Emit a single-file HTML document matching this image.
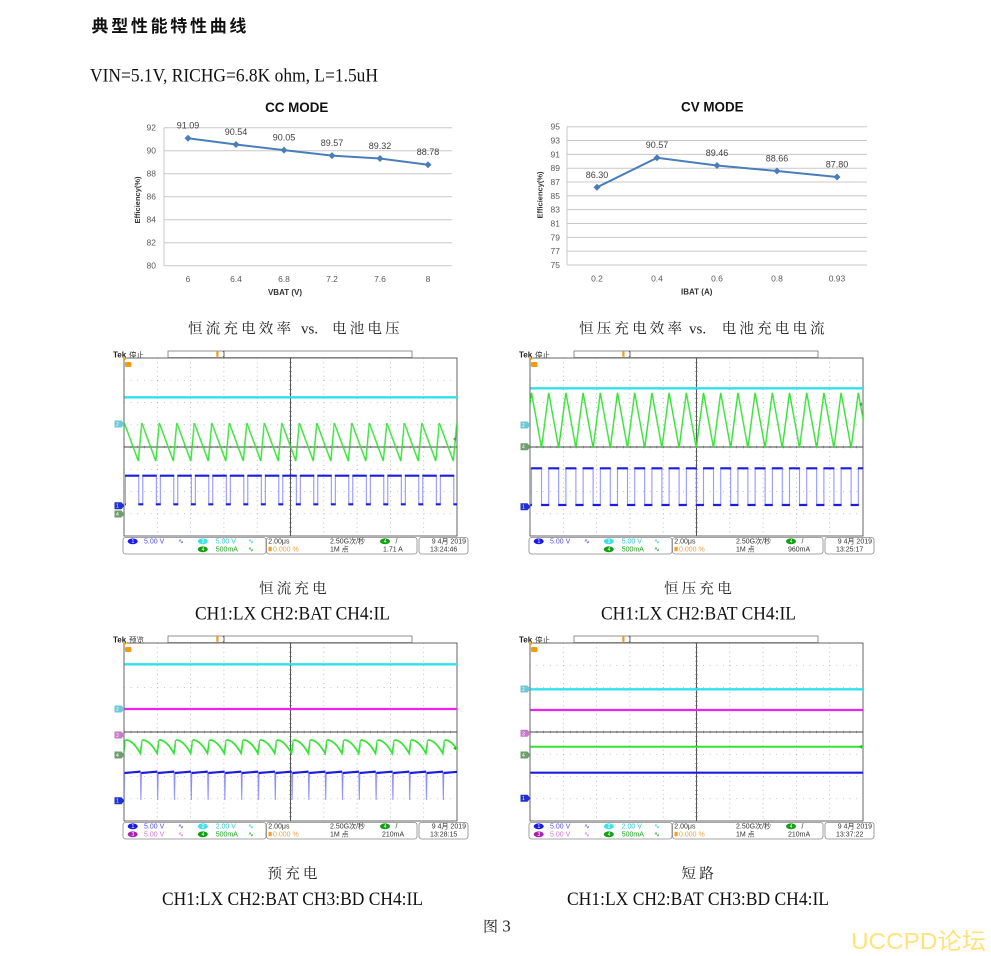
<!DOCTYPE html>
<html><head><meta charset="utf-8">
<style>
html,body{margin:0;padding:0;background:#fff;}
svg{display:block;}
.t{font-family:"Liberation Sans","Noto Sans CJK SC",sans-serif;}
.s{font-family:"Liberation Sans","Noto Sans CJK SC",sans-serif;font-size:7px;}
.sf{font-family:"Liberation Serif","Noto Serif CJK SC",serif;}
.cj{font-family:"Noto Serif CJK SC","Liberation Serif",serif;}
.n{font-family:"Liberation Sans",sans-serif;font-size:5px;fill:#fff;}
</style></head><body>
<svg width="991" height="956" viewBox="0 0 991 956" xmlns="http://www.w3.org/2000/svg">
<defs>
<pattern id="g1" patternUnits="userSpaceOnUse" x="124.3" y="0" width="17.5" height="956">
<path d="M0,423L14,461L17.5,423" fill="none" stroke="#33e233" stroke-width="1.4"/>
</pattern>
<pattern id="b1" patternUnits="userSpaceOnUse" x="131.3" y="0" width="17.5" height="956">
<path d="M7.5,475.7V504.3M11.5,504.3V475.7" stroke="#8c8cff" stroke-width="1"/>
<path d="M0,475.7H8M7,504.3H12M11,475.7H17.5" stroke="#1c1cdd" stroke-width="2.2"/>
</pattern>
<pattern id="g2" patternUnits="userSpaceOnUse" x="125.5" y="0" width="17.2" height="956">
<path d="M0,392.7L10,448L17.2,392.7" fill="none" stroke="#33e233" stroke-width="1.4"/>
</pattern>
<pattern id="b2" patternUnits="userSpaceOnUse" x="130.5" y="0" width="17.2" height="956">
<path d="M5,468.3V505M12.2,505V468.3" stroke="#8c8cff" stroke-width="1"/>
<path d="M0,468.3H5.5M4.5,505H12.7M11.7,468.3H17.2" stroke="#1c1cdd" stroke-width="2.2"/>
</pattern>
<pattern id="g3" patternUnits="userSpaceOnUse" x="125.5" y="0" width="16.8" height="956">
<path d="M0,455Q7,454.5 14.8,468.3L16.8,455" fill="none" stroke="#33e233" stroke-width="1.7"/>
</pattern>
<pattern id="b3" patternUnits="userSpaceOnUse" x="132.7" y="0" width="16.8" height="956">
<path d="M7.7,486.6L8.2,515L8.7,488" fill="none" stroke="#8c8cff" stroke-width="1"/>
<path d="M0,487.3L7.9,486.6M8.5,488L16.8,487.3" fill="none" stroke="#1c1cdd" stroke-width="2.2"/>
</pattern>
<g id="grat">
<g stroke="#a0a0a0" stroke-width="0.8" stroke-dasharray="0.8 3.65" fill="none">
<path d="M157.3,358V536M190.6,358V536M223.9,358V536M257.2,358V536M323.8,358V536M357.1,358V536M390.4,358V536M423.7,358V536"/>
</g>
<g stroke="#a0a0a0" stroke-width="0.8" stroke-dasharray="0.8 5.86" fill="none">
<path d="M124,380.25H457M124,402.5H457M124,424.75H457M124,469.25H457M124,491.5H457M124,513.75H457"/>
</g>
<path d="M290.5,358V536M124,447H457" stroke="#444" stroke-width="0.9" fill="none"/>
<path d="M124,447H457" stroke="#666" stroke-width="2.6" stroke-dasharray="0.6 6.06" fill="none"/>
<path d="M290.5,358V536" stroke="#666" stroke-width="2.6" stroke-dasharray="0.6 3.85" fill="none"/>
<rect x="124" y="358" width="333" height="178" fill="none" stroke="#555" stroke-width="0.9"/>
<path d="M124,357.5h3.5l-3.5,3.5z" fill="#f39c12"/>
<rect x="125" y="362" width="6.5" height="5" rx="1.2" fill="#f39c12"/>
<rect x="123" y="537.5" width="143" height="16.5" rx="2.5" fill="#fff" stroke="#888" stroke-width="0.8"/>
<rect x="266.5" y="537.5" width="150.5" height="16.5" rx="2.5" fill="#fff" stroke="#888" stroke-width="0.8"/>
<rect x="419" y="537.5" width="49" height="16.5" rx="2.5" fill="#fff" stroke="#888" stroke-width="0.8"/>
<rect x="168" y="351" width="244" height="6.5" fill="#fff" stroke="#777" stroke-width="0.8"/>
<rect x="216.3" y="351.6" width="2.2" height="5.2" fill="#f29a1f"/>
<path d="M222.8,351.8h1.2v5h-1.2" fill="none" stroke="#222" stroke-width="0.7"/>
</g>
</defs>

<!-- Header -->
<text x="91.5" y="32" font-family="Noto Sans CJK SC, sans-serif" font-weight="bold" font-size="17" letter-spacing="2.7" fill="#111">典型性能特性曲线</text>
<text x="90" y="81.5" class="sf" font-size="18.5" textLength="288" lengthAdjust="spacingAndGlyphs" fill="#111">VIN=5.1V, RICHG=6.8K ohm, L=1.5uH</text>

<!-- CC chart -->
<g class="t">
<text x="296.7" y="112" text-anchor="middle" font-size="13.4" font-weight="bold" fill="#111">CC MODE</text>
<path d="M164,127.7H452M164,150.7H452M164,173.7H452M164,196.7H452M164,219.7H452M164,242.7H452M164,265.7H452M164,127.7V265.7" stroke="#c8c8c8" stroke-width="1" fill="none"/>
<g font-size="8.5" fill="#595959" text-anchor="end">
<text x="156" y="130.7">92</text><text x="156" y="153.7">90</text><text x="156" y="176.7">88</text><text x="156" y="199.7">86</text><text x="156" y="222.7">84</text><text x="156" y="245.7">82</text><text x="156" y="268.7">80</text>
</g>
<g font-size="8.5" fill="#595959" text-anchor="middle">
<text x="188" y="282">6</text><text x="236" y="282">6.4</text><text x="284" y="282">6.8</text><text x="332" y="282">7.2</text><text x="380" y="282">7.6</text><text x="428" y="282">8</text>
</g>
<polyline points="188,138.2 236,144.5 284,150.1 332,155.6 380,158.5 428,164.7" fill="none" stroke="#4a7ebb" stroke-width="2"/>
<g fill="#4a7ebb">
<path d="M188,134.7l3.5,3.5l-3.5,3.5l-3.5,-3.5z"/><path d="M236,141l3.5,3.5l-3.5,3.5l-3.5,-3.5z"/><path d="M284,146.6l3.5,3.5l-3.5,3.5l-3.5,-3.5z"/><path d="M332,152.1l3.5,3.5l-3.5,3.5l-3.5,-3.5z"/><path d="M380,155l3.5,3.5l-3.5,3.5l-3.5,-3.5z"/><path d="M428,161.2l3.5,3.5l-3.5,3.5l-3.5,-3.5z"/>
</g>
<g font-size="9" fill="#404040" text-anchor="middle">
<text x="188" y="128.5">91.09</text><text x="236" y="135">90.54</text><text x="284" y="140.6">90.05</text><text x="332" y="146.1">89.57</text><text x="380" y="149">89.32</text><text x="428" y="155.2">88.78</text>
</g>
<text x="285" y="295" text-anchor="middle" font-size="8" font-weight="bold" fill="#333">VBAT (V)</text>
<text transform="translate(140,200) rotate(-90)" text-anchor="middle" font-size="7.5" font-weight="bold" fill="#333">Efficiency(%)</text>
</g>

<!-- CV chart -->
<g class="t">
<text x="712.3" y="111.4" text-anchor="middle" font-size="13.4" font-weight="bold" fill="#111">CV MODE</text>
<path d="M567,126.7H867M567,140.53H867M567,154.36H867M567,168.19H867M567,182.02H867M567,195.85H867M567,209.68H867M567,223.51H867M567,237.34H867M567,251.17H867M567,265H867M567,126.7V265" stroke="#c8c8c8" stroke-width="1" fill="none"/>
<g font-size="8.5" fill="#595959" text-anchor="end">
<text x="560" y="129.7">95</text><text x="560" y="143.5">93</text><text x="560" y="157.4">91</text><text x="560" y="171.2">89</text><text x="560" y="185">87</text><text x="560" y="198.9">85</text><text x="560" y="212.7">83</text><text x="560" y="226.5">81</text><text x="560" y="240.3">79</text><text x="560" y="254.2">77</text><text x="560" y="268">75</text>
</g>
<g font-size="8.5" fill="#595959" text-anchor="middle">
<text x="597" y="281.5">0.2</text><text x="657" y="281.5">0.4</text><text x="717" y="281.5">0.6</text><text x="777" y="281.5">0.8</text><text x="837" y="281.5">0.93</text>
</g>
<polyline points="597,187.3 657,157.8 717,165.5 777,171 837,177" fill="none" stroke="#4a7ebb" stroke-width="2"/>
<g fill="#4a7ebb">
<path d="M597,183.8l3.5,3.5l-3.5,3.5l-3.5,-3.5z"/><path d="M657,154.3l3.5,3.5l-3.5,3.5l-3.5,-3.5z"/><path d="M717,162l3.5,3.5l-3.5,3.5l-3.5,-3.5z"/><path d="M777,167.5l3.5,3.5l-3.5,3.5l-3.5,-3.5z"/><path d="M837,173.5l3.5,3.5l-3.5,3.5l-3.5,-3.5z"/>
</g>
<g font-size="9" fill="#404040" text-anchor="middle">
<text x="597" y="178">86.30</text><text x="657" y="148">90.57</text><text x="717" y="156">89.46</text><text x="777" y="161.5">88.66</text><text x="837" y="167.5">87.80</text>
</g>
<text x="696.7" y="294.7" text-anchor="middle" font-size="8" font-weight="bold" fill="#333">IBAT (A)</text>
<text transform="translate(542.7,195) rotate(-90)" text-anchor="middle" font-size="7.5" font-weight="bold" fill="#333">Efficiency(%)</text>
</g>

<!-- captions row 1 -->
<text x="188" y="333.5" class="cj" font-size="14.5" letter-spacing="3.2" fill="#222">恒流充电效率</text>
<text x="301" y="333.5" class="sf" font-size="15" fill="#222">vs.</text>
<text x="332" y="333.5" class="cj" font-size="14.5" letter-spacing="3.2" fill="#222">电池电压</text>
<text x="579" y="333.5" class="cj" font-size="14.5" letter-spacing="3.2" fill="#222">恒压充电效率</text>
<text x="689" y="333.5" class="sf" font-size="15" fill="#222">vs.</text>
<text x="721.7" y="333.5" class="cj" font-size="14.5" letter-spacing="3.2" fill="#222">电池充电电流</text>

<!-- Scope 1 -->
<g>
<text x="113" y="357.5" class="t" font-weight="bold" font-size="8" fill="#222">Tek</text>
<text x="129" y="357.5" class="t" font-size="7.5" fill="#333">停止</text>
<line x1="224.5" y1="354.3" x2="363" y2="354.3" stroke="#8e8ee8" stroke-width="1"/>
<use href="#grat"/>
<line x1="124.5" y1="397.3" x2="457" y2="397.3" stroke="#2fe0ee" stroke-width="2.3"/>
<rect x="124.3" y="418" width="332.7" height="48" fill="url(#g1)"/>
<rect x="125" y="472" width="332" height="36" fill="url(#b1)"/>
<path d="M114.5,420.5h7l3,3.5l-3,3.5h-7z" fill="#6cc9d6"/><text x="116" y="426" class="n">2</text>
<path d="M114.5,502.2h7l3,3.5l-3,3.5h-7z" fill="#2230d0"/><text x="116" y="507.6" class="n">1</text>
<path d="M114.5,510.5h7l3,3.5l-3,3.5h-7z" fill="#6e9e6e"/><text x="116" y="516" class="n">4</text>
<path d="M456,437l-3,2l3,2z" fill="#22bb22"/>
<g class="s">
<ellipse cx="132.7" cy="541.3" rx="5" ry="2.9" fill="#1a1aee"/><text x="131.5" y="543.2" class="n">1</text>
<text x="144" y="543.6" fill="#5050f0">5.00 V</text><text x="178" y="543.6" fill="#5050f0">∿</text>
<ellipse cx="202.8" cy="541.3" rx="5" ry="2.9" fill="#3fe0e8"/><text x="201.6" y="543.2" class="n">2</text>
<text x="215.7" y="543.6" fill="#30c8d0">5.00 V</text><text x="248" y="543.6" fill="#30c8d0">∿</text>
<ellipse cx="202.8" cy="549.3" rx="5" ry="2.9" fill="#12a012"/><text x="201.6" y="551.2" class="n">4</text>
<text x="215.7" y="551.6" fill="#20a020">500mA</text><text x="248" y="551.6" fill="#20a020">∿</text>
<text x="268.3" y="543.6" fill="#333">2.00μs</text>
<text x="330" y="543.6" fill="#333">2.50G次/秒</text>
<ellipse cx="385" cy="541.3" rx="5" ry="2.9" fill="#12a012"/><text x="383.8" y="543.2" class="n">4</text>
<text x="395.5" y="543.6" fill="#333">/</text>
<rect x="268.5" y="546.8" width="3.2" height="4.4" fill="#f5a020"/>
<text x="273" y="551.6" fill="#f5a040">0.000 %</text>
<text x="330" y="551.6" fill="#333">1M 点</text>
<text x="383" y="551.6" fill="#333">1.71 A</text>
<text x="466" y="543.6" text-anchor="end" fill="#333">9 4月 2019</text>
<text x="430" y="551.6" fill="#333">13:24:46</text>
</g>
</g>

<!-- Scope 2 -->
<g transform="translate(406,0)">
<text x="113" y="357.5" class="t" font-weight="bold" font-size="8" fill="#222">Tek</text>
<text x="129" y="357.5" class="t" font-size="7.5" fill="#333">停止</text>
<line x1="224.5" y1="354.3" x2="363" y2="354.3" stroke="#8e8ee8" stroke-width="1"/>
<use href="#grat"/>
<line x1="124.5" y1="388.3" x2="457" y2="388.3" stroke="#2fe0ee" stroke-width="2.3"/>
<rect x="124.3" y="388" width="332.7" height="64" fill="url(#g2)"/>
<rect x="124.5" y="464" width="332.5" height="45" fill="url(#b2)"/>
<path d="M114.5,421.5h7l3,3.5l-3,3.5h-7z" fill="#6cc9d6"/><text x="116" y="427" class="n">2</text>
<path d="M114.5,443.2h7l3,3.5l-3,3.5h-7z" fill="#6e9e6e"/><text x="116" y="448.6" class="n">4</text>
<path d="M114.5,503.2h7l3,3.5l-3,3.5h-7z" fill="#2230d0"/><text x="116" y="508.6" class="n">1</text>
<path d="M456,402.3l-3,2l3,2z" fill="#22bb22"/>
<g class="s">
<ellipse cx="132.7" cy="541.3" rx="5" ry="2.9" fill="#1a1aee"/><text x="131.5" y="543.2" class="n">1</text>
<text x="144" y="543.6" fill="#5050f0">5.00 V</text><text x="178" y="543.6" fill="#5050f0">∿</text>
<ellipse cx="202.8" cy="541.3" rx="5" ry="2.9" fill="#3fe0e8"/><text x="201.6" y="543.2" class="n">2</text>
<text x="215.7" y="543.6" fill="#30c8d0">5.00 V</text><text x="248" y="543.6" fill="#30c8d0">∿</text>
<ellipse cx="202.8" cy="549.3" rx="5" ry="2.9" fill="#12a012"/><text x="201.6" y="551.2" class="n">4</text>
<text x="215.7" y="551.6" fill="#20a020">500mA</text><text x="248" y="551.6" fill="#20a020">∿</text>
<text x="268.3" y="543.6" fill="#333">2.00μs</text>
<text x="330" y="543.6" fill="#333">2.50G次/秒</text>
<ellipse cx="385" cy="541.3" rx="5" ry="2.9" fill="#12a012"/><text x="383.8" y="543.2" class="n">4</text>
<text x="395.5" y="543.6" fill="#333">/</text>
<rect x="268.5" y="546.8" width="3.2" height="4.4" fill="#f5a020"/>
<text x="273" y="551.6" fill="#f5a040">0.000 %</text>
<text x="330" y="551.6" fill="#333">1M 点</text>
<text x="382" y="551.6" fill="#333">960mA</text>
<text x="466" y="543.6" text-anchor="end" fill="#333">9 4月 2019</text>
<text x="430" y="551.6" fill="#333">13:25:17</text>
</g>
</g>

<!-- captions row 2 -->
<text x="259" y="593.5" class="cj" font-size="14.5" letter-spacing="3.2" fill="#222">恒流充电</text>
<text x="195" y="619.5" class="sf" font-size="18.5" textLength="195" lengthAdjust="spacingAndGlyphs" fill="#111">CH1:LX CH2:BAT CH4:IL</text>
<text x="664" y="593.5" class="cj" font-size="14.5" letter-spacing="3.2" fill="#222">恒压充电</text>
<text x="601" y="619.5" class="sf" font-size="18.5" textLength="195" lengthAdjust="spacingAndGlyphs" fill="#111">CH1:LX CH2:BAT CH4:IL</text>

<!-- Scope 3 -->
<g transform="translate(0,285)">
<text x="113" y="357.5" class="t" font-weight="bold" font-size="8" fill="#222">Tek</text>
<text x="129" y="357.5" class="t" font-size="7.5" fill="#333">预览</text>
<line x1="224.5" y1="354.3" x2="363" y2="354.3" stroke="#e58ae5" stroke-width="1"/>
<use href="#grat"/>
<line x1="124.5" y1="379.3" x2="457" y2="379.3" stroke="#2fe0ee" stroke-width="2.3"/>
<line x1="124.5" y1="424" x2="457" y2="424" stroke="#ee22ee" stroke-width="2.3"/>
<rect x="124.3" y="450" width="332.7" height="22" fill="url(#g3)"/>
<rect x="124.3" y="482" width="332.7" height="36" fill="url(#b3)"/>
<path d="M114.5,420.5h7l3,3.5l-3,3.5h-7z" fill="#6cc9d6"/><text x="116" y="426" class="n">2</text>
<path d="M114.5,446.5h7l3,3.5l-3,3.5h-7z" fill="#c77ac7"/><text x="116" y="452" class="n">3</text>
<path d="M114.5,466.5h7l3,3.5l-3,3.5h-7z" fill="#6e9e6e"/><text x="116" y="472" class="n">4</text>
<path d="M114.5,512.2h7l3,3.5l-3,3.5h-7z" fill="#2230d0"/><text x="116" y="517.6" class="n">1</text>
<path d="M456,461.3l-3,2l3,2z" fill="#22bb22"/>
<g class="s">
<ellipse cx="132.7" cy="541.3" rx="5" ry="2.9" fill="#1a1aee"/><text x="131.5" y="543.2" class="n">1</text>
<text x="144" y="543.6" fill="#5050f0">5.00 V</text><text x="178" y="543.6" fill="#5050f0">∿</text>
<ellipse cx="132.7" cy="549.3" rx="5" ry="2.9" fill="#aa22aa"/><text x="131.5" y="551.2" class="n">3</text>
<text x="144" y="551.6" fill="#d070d0">5.00 V</text><text x="178" y="551.6" fill="#d070d0">∿</text>
<ellipse cx="202.8" cy="541.3" rx="5" ry="2.9" fill="#3fe0e8"/><text x="201.6" y="543.2" class="n">2</text>
<text x="215.7" y="543.6" fill="#30c8d0">2.00 V</text><text x="248" y="543.6" fill="#30c8d0">∿</text>
<ellipse cx="202.8" cy="549.3" rx="5" ry="2.9" fill="#12a012"/><text x="201.6" y="551.2" class="n">4</text>
<text x="215.7" y="551.6" fill="#20a020">500mA</text><text x="248" y="551.6" fill="#20a020">∿</text>
<text x="268.3" y="543.6" fill="#333">2.00μs</text>
<text x="330" y="543.6" fill="#333">2.50G次/秒</text>
<ellipse cx="385" cy="541.3" rx="5" ry="2.9" fill="#12a012"/><text x="383.8" y="543.2" class="n">4</text>
<text x="395.5" y="543.6" fill="#333">/</text>
<rect x="268.5" y="546.8" width="3.2" height="4.4" fill="#f5a020"/>
<text x="273" y="551.6" fill="#f5a040">0.000 %</text>
<text x="330" y="551.6" fill="#333">1M 点</text>
<text x="382" y="551.6" fill="#333">210mA</text>
<text x="466" y="543.6" text-anchor="end" fill="#333">9 4月 2019</text>
<text x="430" y="551.6" fill="#333">13:28:15</text>
</g>
</g>

<!-- Scope 4 -->
<g transform="translate(406,285)">
<text x="113" y="357.5" class="t" font-weight="bold" font-size="8" fill="#222">Tek</text>
<text x="129" y="357.5" class="t" font-size="7.5" fill="#333">停止</text>
<line x1="224.5" y1="354.3" x2="363" y2="354.3" stroke="#e58ae5" stroke-width="1"/>
<use href="#grat"/>
<line x1="124.5" y1="404.3" x2="457" y2="404.3" stroke="#2fe0ee" stroke-width="2.3"/>
<line x1="124.5" y1="425" x2="457" y2="425" stroke="#ee22ee" stroke-width="2.3"/>
<line x1="124.5" y1="461.7" x2="457" y2="461.7" stroke="#33e233" stroke-width="2"/>
<line x1="124.5" y1="487.7" x2="457" y2="487.7" stroke="#1c1cdd" stroke-width="2.2"/>
<path d="M114.5,400.5h7l3,3.5l-3,3.5h-7z" fill="#6cc9d6"/><text x="116" y="406" class="n">2</text>
<path d="M114.5,444.8h7l3,3.5l-3,3.5h-7z" fill="#c77ac7"/><text x="116" y="450.3" class="n">3</text>
<path d="M114.5,466.5h7l3,3.5l-3,3.5h-7z" fill="#6e9e6e"/><text x="116" y="472" class="n">4</text>
<path d="M114.5,509.8h7l3,3.5l-3,3.5h-7z" fill="#2230d0"/><text x="116" y="515.2" class="n">1</text>
<path d="M456,459.7l-3,2l3,2z" fill="#22bb22"/>
<g class="s">
<ellipse cx="132.7" cy="541.3" rx="5" ry="2.9" fill="#1a1aee"/><text x="131.5" y="543.2" class="n">1</text>
<text x="144" y="543.6" fill="#5050f0">5.00 V</text><text x="178" y="543.6" fill="#5050f0">∿</text>
<ellipse cx="132.7" cy="549.3" rx="5" ry="2.9" fill="#aa22aa"/><text x="131.5" y="551.2" class="n">3</text>
<text x="144" y="551.6" fill="#d070d0">5.00 V</text><text x="178" y="551.6" fill="#d070d0">∿</text>
<ellipse cx="202.8" cy="541.3" rx="5" ry="2.9" fill="#3fe0e8"/><text x="201.6" y="543.2" class="n">2</text>
<text x="215.7" y="543.6" fill="#30c8d0">2.00 V</text><text x="248" y="543.6" fill="#30c8d0">∿</text>
<ellipse cx="202.8" cy="549.3" rx="5" ry="2.9" fill="#12a012"/><text x="201.6" y="551.2" class="n">4</text>
<text x="215.7" y="551.6" fill="#20a020">500mA</text><text x="248" y="551.6" fill="#20a020">∿</text>
<text x="268.3" y="543.6" fill="#333">2.00μs</text>
<text x="330" y="543.6" fill="#333">2.50G次/秒</text>
<ellipse cx="385" cy="541.3" rx="5" ry="2.9" fill="#12a012"/><text x="383.8" y="543.2" class="n">4</text>
<text x="395.5" y="543.6" fill="#333">/</text>
<rect x="268.5" y="546.8" width="3.2" height="4.4" fill="#f5a020"/>
<text x="273" y="551.6" fill="#f5a040">0.000 %</text>
<text x="330" y="551.6" fill="#333">1M 点</text>
<text x="382" y="551.6" fill="#333">210mA</text>
<text x="466" y="543.6" text-anchor="end" fill="#333">9 4月 2019</text>
<text x="430" y="551.6" fill="#333">13:37:22</text>
</g>
</g>

<!-- captions row 3 -->
<text x="267.5" y="878.5" class="cj" font-size="14.5" letter-spacing="3.2" fill="#222">预充电</text>
<text x="162" y="905" class="sf" font-size="18.5" textLength="261" lengthAdjust="spacingAndGlyphs" fill="#111">CH1:LX CH2:BAT CH3:BD CH4:IL</text>
<text x="681.5" y="878.5" class="cj" font-size="14.5" letter-spacing="3.2" fill="#222">短路</text>
<text x="567" y="905" class="sf" font-size="18.5" textLength="262" lengthAdjust="spacingAndGlyphs" fill="#111">CH1:LX CH2:BAT CH3:BD CH4:IL</text>
<text x="483" y="931.5" class="cj" font-size="15" fill="#222">图<tspan class="sf" font-size="17"> 3</tspan></text>

<!-- watermark -->
<text x="851" y="949" font-family="Liberation Sans, Noto Sans CJK SC, sans-serif" font-size="23" textLength="135" lengthAdjust="spacingAndGlyphs" fill="#ffe27a">UCCPD论坛</text>
</svg>
</body></html>
